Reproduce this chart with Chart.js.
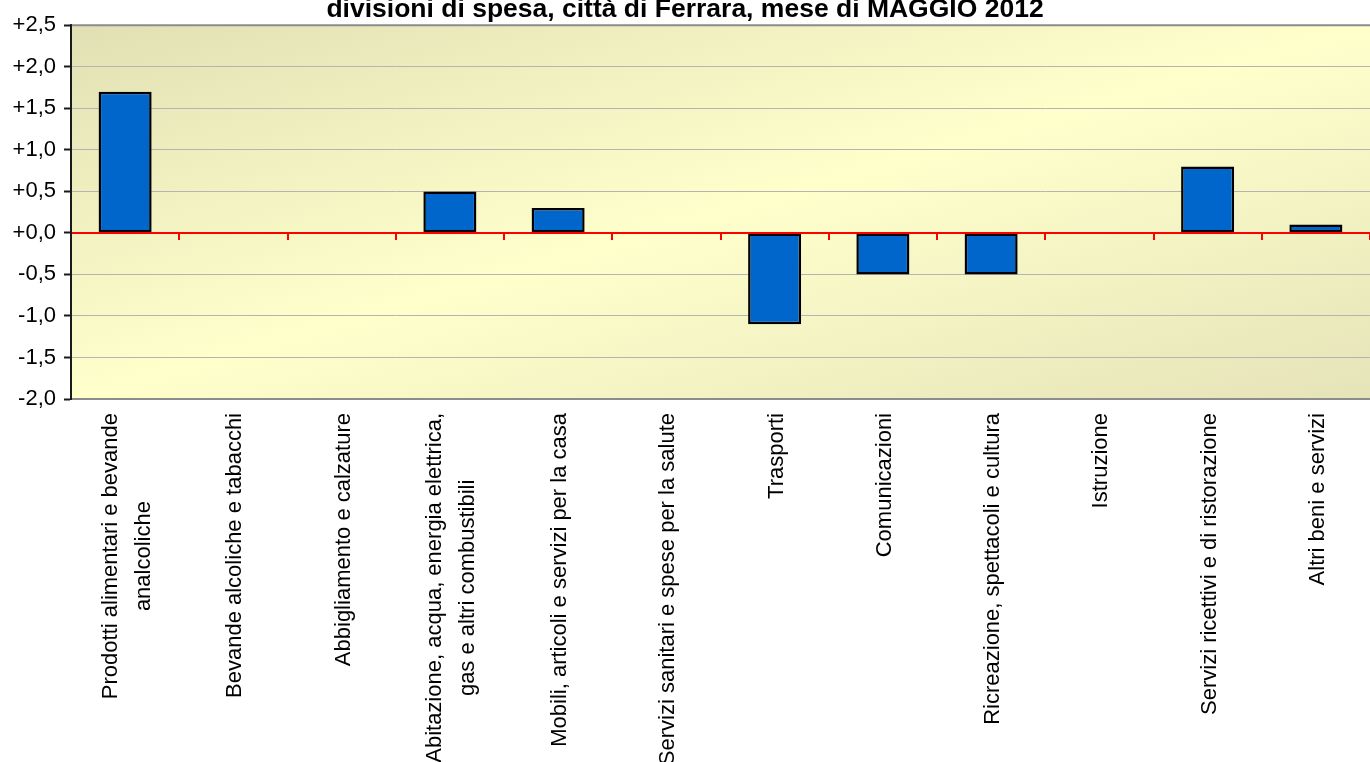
<!DOCTYPE html>
<html>
<head>
<meta charset="utf-8">
<script src="https://cdn.jsdelivr.net/npm/chart.js@4"></script>
<style>
body{margin:0;background:#fff;}
#wrap{width:1370px;height:762px;}
</style>
</head>
<body>
<div id="wrap"><canvas id="grafico" width="1370" height="762"></canvas></div>
<script>
// divisioni di spesa
var categorie = [
    ['Prodotti alimentari e bevande', 'analcoliche'],
    ['Bevande alcoliche e tabacchi'],
    ['Abbigliamento e calzature'],
    ['Abitazione, acqua, energia elettrica,', 'gas e altri combustibili'],
    ['Mobili, articoli e servizi per la casa'],
    ['Servizi sanitari e spese per la salute'],
    ['Trasporti'],
    ['Comunicazioni'],
    ['Ricreazione, spettacoli e cultura'],
    ['Istruzione'],
    ['Servizi ricettivi e di ristorazione'],
    ['Altri beni e servizi']
];
// variazioni congiunturali (%)
var variazioni = [1.7, 0.0, 0.0, 0.5, 0.3, 0.0, -1.1, -0.5, -0.5, 0.0, 0.8, 0.1];
var asse_y_min = -2.0;
var asse_y_max = 2.5;
var asse_y_passo = 0.5;
var titolo = 'divisioni di spesa, città di Ferrara, mese di MAGGIO 2012';

var FONT = "'Liberation Sans', Arial, sans-serif";

function formatta(v){
    var s = Math.abs(v).toFixed(1).replace('.', ',');
    return (v < -1e-9 ? '-' : '+') + s;
}

// sfondo sfumato dell'area del grafico
var sfondo = {
    id: 'sfondo',
    beforeDraw: function(chart){
        var a = chart.chartArea, ctx = chart.ctx;
        var w = a.right - a.left, h = a.bottom - a.top;
        var k = 2 * w * h / (w * w + h * h);
        var g = ctx.createLinearGradient(a.left, a.top, a.left + k * h, a.top + k * w);
        g.addColorStop(0, '#E1E0B4');
        g.addColorStop(0.5, '#FFFFCC');
        g.addColorStop(1, '#E5E3B8');
        ctx.save();
        ctx.fillStyle = g;
        ctx.fillRect(a.left, a.top, w, h);
        ctx.restore();
    }
};

// linea dello zero rossa con tacche, cornice, etichette categorie
var rifiniture = {
    id: 'rifiniture',
    afterDatasetsDraw: function(chart){
        var a = chart.chartArea, ctx = chart.ctx;
        var x = chart.scales.x, y = chart.scales.y;
        var y0 = y.getPixelForValue(0);
        ctx.save();
        ctx.strokeStyle = '#FF0000';
        ctx.lineWidth = 2;
        ctx.beginPath();
        ctx.moveTo(a.left, y0);
        ctx.lineTo(a.right, y0);
        for (var i = 0; i <= categorie.length; i++) {
            var px = Math.round(x.getPixelForValue(i - 0.5));
            ctx.moveTo(px, y0);
            ctx.lineTo(px, y0 + 7);
        }
        ctx.stroke();
        // cornice
        ctx.strokeStyle = '#8C8C8C';
        ctx.lineWidth = 2;
        ctx.beginPath();
        ctx.moveTo(a.left, a.top);
        ctx.lineTo(a.right, a.top);
        ctx.moveTo(a.left, a.bottom);
        ctx.lineTo(a.right, a.bottom);
        ctx.stroke();
        ctx.strokeStyle = '#1A1A1A';
        ctx.beginPath();
        ctx.moveTo(a.left, a.top - 1);
        ctx.lineTo(a.left, a.bottom + 1);
        ctx.stroke();
        ctx.restore();
    },
    afterDraw: function(chart){
        var a = chart.chartArea, ctx = chart.ctx;
        var x = chart.scales.x;
        var alto = a.bottom + 14;
        var interlinea = 33;
        ctx.save();
        ctx.font = '22px ' + FONT;
        ctx.fillStyle = '#000';
        ctx.textAlign = 'center';
        ctx.textBaseline = 'middle';
        categorie.forEach(function(righe, i){
            var maxW = 0;
            righe.forEach(function(r){ maxW = Math.max(maxW, ctx.measureText(r).width); });
            ctx.save();
            ctx.translate(x.getPixelForValue(i) + 2, alto);
            ctx.rotate(-Math.PI / 2);
            righe.forEach(function(r, k){
                ctx.fillText(r, -maxW / 2, (k - (righe.length - 1) / 2) * interlinea);
            });
            ctx.restore();
        });
        ctx.restore();
    }
};

var grafico = new Chart(document.getElementById('grafico').getContext('2d'), {
    type: 'bar',
    data: {
        labels: categorie,
        datasets: [
            {
                label: 'Variazione %',
                data: variazioni,
                backgroundColor: '#0066CC',
                borderColor: '#000000',
                borderWidth: 2.5,
                borderSkipped: false,
                barPercentage: 0.49,
                categoryPercentage: 1.0
            }
        ]
    },
    options: {
        responsive: false,
        animation: false,
        layout: { padding: 0 },
        plugins: {
            legend: { display: false },
            tooltip: { enabled: false },
            title: {
                display: true,
                text: titolo,
                color: '#000',
                font: { family: FONT, size: 26.5, weight: 'bold', lineHeight: 0.54 },
                padding: { top: 3, bottom: 8 }
            }
        },
        scales: {
            x: {
                ticks: { display: false },
                grid: { display: false },
                border: { display: false },
                afterFit: function(s){ s.height = 363; }
            },
            y: {
                min: asse_y_min,
                max: asse_y_max,
                ticks: {
                    stepSize: asse_y_passo,
                    color: '#000',
                    padding: 8,
                    font: { family: FONT, size: 22 },
                    callback: function(v){ return formatta(v); }
                },
                grid: {
                    color: function(c){
                        if (!c.tick) return '#B4B4B4';
                        var v = c.tick.value;
                        if (Math.abs(v) < 1e-9 || Math.abs(v - asse_y_max) < 1e-9 || Math.abs(v - asse_y_min) < 1e-9) return 'rgba(0,0,0,0)';
                        return '#B4B4B4';
                    },
                    lineWidth: 1,
                    tickColor: '#1A1A1A',
                    tickLength: 7,
                    tickWidth: 2
                },
                border: { display: true, color: '#1A1A1A', width: 2 },
                afterFit: function(s){ s.width = 71; }
            }
        }
    },
    plugins: [sfondo, rifiniture]
});
</script>
</body>
</html>
